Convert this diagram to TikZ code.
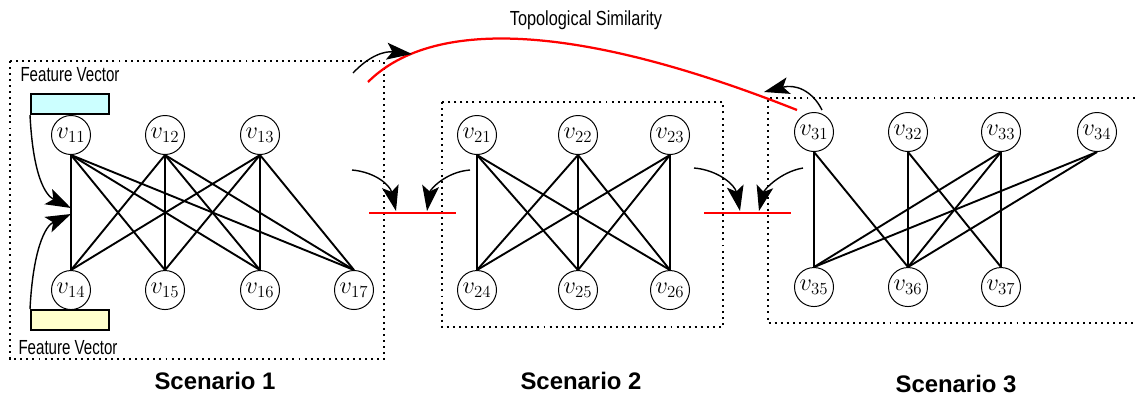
\documentclass[tikz,border=0pt]{standalone}
\usepackage{fontspec}
\setsansfont{Liberation Sans}
\newfontfamily\condfont[FakeStretch=0.8]{Liberation Sans}
\newfontfamily\narrowfont[FakeStretch=0.74]{Liberation Sans}
\usepackage{xcolor}
\usepackage{tikz}
\usetikzlibrary{arrows.meta, positioning}
\definecolor{featcyan}{HTML}{CCFFFF}
\definecolor{featyellow}{HTML}{FFFFCC}

\begin{document}
\begin{tikzpicture}[x=0.025cm, y=-0.025cm, node distance=3.875cm,
		vertex/.style={circle, draw, line width=0.7pt, fill=white, minimum size=0.975cm, inner sep=0pt, font=\fontsize{18}{18}\selectfont},
		edge/.style={line width=1.35pt},
		scenbox/.style={line width=1.4pt, dash pattern=on 1.4pt off 2.9pt},
		fvbox/.style={rectangle, draw, line width=1.4pt, minimum width=1.95cm, minimum height=0.5cm, inner sep=0pt},
		fvlabel/.style={font=\narrowfont\fontsize{14.5}{15}\selectfont, inner sep=0pt},
		scenlabel/.style={font=\sffamily\bfseries\fontsize{17}{18}\selectfont, inner sep=0pt},
		sepline/.style={red, line width=1.6pt},
		flow/.style={-{Stealth[length=18pt, width=12pt, inset=4pt]}, line width=1pt}]
	\useasboundingbox (0,0) rectangle (1135,396);
	
	% Cadres des scénarios
	\draw[scenbox] (10,61) rectangle (384,359);
	\draw[scenbox] (442,102) rectangle (723,327);
	\draw[scenbox] (1135,98) -| (768,323) -- (1135,323);
	
	% Scenario 1
	\node[vertex] (v11) at (71,135) {$v_{11}$};
	\node[vertex] (v12) at (165,135) {$v_{12}$};
	\node[vertex] (v13) at (260,135) {$v_{13}$};
	\node[vertex, below of=v11] (v14) {$v_{14}$};
	\node[vertex, below of=v12] (v15) {$v_{15}$};
	\node[vertex, below of=v13] (v16) {$v_{16}$};
	\node[vertex] (v17) at (354,290) {$v_{17}$};
	\foreach \a in {11,12,13}
		\foreach \b in {14,15,16,17}
			\draw[edge] (v\a.south) -- (v\b.north);
	
	% Scenario 2
	\node[vertex] (v21) at (477,135) {$v_{21}$};
	\node[vertex] (v22) at (578,135) {$v_{22}$};
	\node[vertex] (v23) at (670,135) {$v_{23}$};
	\node[vertex, below of=v21] (v24) {$v_{24}$};
	\node[vertex, below of=v22] (v25) {$v_{25}$};
	\node[vertex, below of=v23] (v26) {$v_{26}$};
	\foreach \a in {21,22,23}
		\foreach \b in {24,25,26}
			\draw[edge] (v\a.south) -- (v\b.north);
	
	% Scenario 3
	\node[vertex] (v31) at (814,132) {$v_{31}$};
	\node[vertex] (v32) at (908,132) {$v_{32}$};
	\node[vertex] (v33) at (1001,132) {$v_{33}$};
	\node[vertex] (v34) at (1097,132) {$v_{34}$};
	\node[vertex, below of=v31] (v35) {$v_{35}$};
	\node[vertex, below of=v32] (v36) {$v_{36}$};
	\node[vertex, below of=v33] (v37) {$v_{37}$};
	\foreach \a/\b in {31/35, 31/36, 32/36, 32/37, 33/35, 33/36, 33/37, 34/35, 34/36}
		\draw[edge] (v\a.south) -- (v\b.north);
	
	% Vecteurs de caractéristiques
	\node[fvbox, fill=featcyan] (fv1) at (70,104) {};
	\node[fvbox, fill=featyellow] (fv2) at (70,320) {};
	\node[fvlabel] (fvt1) at (70,75) {Feature Vector};
	\node[fvlabel] (fvt2) at (68,348) {Feature Vector};
	\coordinate (fvin1) at (71,208);
	\coordinate (fvin2) at (71,214);
	\draw[flow] (fv1.south west) .. controls (33,175) and (45,195) .. (fvin1);
	\draw[flow] (fv2.north west) .. controls (33,250) and (45,226) .. (fvin2);
	
	% Similarité topologique
	\node[font=\condfont\fontsize{14.5}{15}\selectfont, inner sep=0pt] (topo) at (586,20) {Topological Similarity};
	\coordinate (simA) at (368,82);
	\coordinate (simB) at (797,110);
	\draw[red, line width=1.6pt] (simA) .. controls (430,20) and (570,20) .. (simB);
	\coordinate (outA) at (353,73);
	\coordinate (outB) at (412,54);
	\draw[flow] (outA) .. controls (370,55) and (385,51) .. (outB);
	\coordinate (outC) at (822,110);
	\coordinate (outD) at (764,92);
	\draw[flow] (outC) .. controls (812,90) and (795,84) .. (outD);
	
	% Séparateurs
	\coordinate (sepA1) at (369,213);
	\coordinate (sepA2) at (456,213);
	\coordinate (sepB1) at (704,213);
	\coordinate (sepB2) at (791,213);
	\draw[sepline] (sepA1) -- (sepA2);
	\draw[sepline] (sepB1) -- (sepB2);
	\coordinate (inA1) at (352,170);
	\coordinate (inA2) at (470,170);
	\coordinate (inB1) at (694,168);
	\coordinate (inB2) at (803,168);
	\coordinate (tipA1) at (396,211);
	\coordinate (tipA2) at (427,211);
	\coordinate (tipB1) at (740,211);
	\coordinate (tipB2) at (759,211);
	\draw[flow] (inA1) .. controls (375,172) and (390,185) .. (tipA1);
	\draw[flow] (inA2) .. controls (445,172) and (430,190) .. (tipA2);
	\draw[flow] (inB1) .. controls (718,170) and (735,185) .. (tipB1);
	\draw[flow] (inB2) .. controls (780,172) and (764,190) .. (tipB2);
	
	% Légendes
	\node[scenlabel] (sc1) at (215,381) {Scenario 1};
	\node[scenlabel] (sc2) at (581,381) {Scenario 2};
	\node[scenlabel] (sc3) at (956,384) {Scenario 3};
	
\end{tikzpicture}
\end{document}
